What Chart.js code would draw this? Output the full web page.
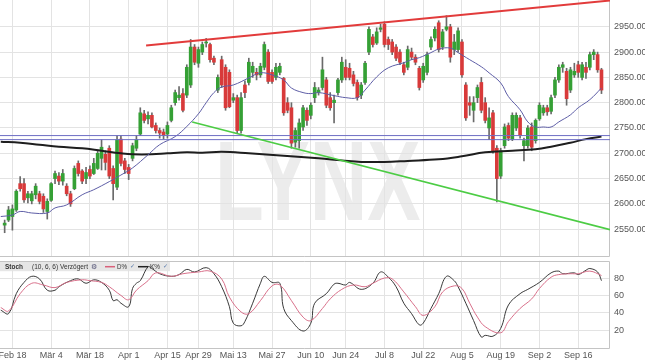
<!DOCTYPE html>
<html><head><meta charset="utf-8">
<script src="https://cdn.jsdelivr.net/npm/chart.js@4.4.1/dist/chart.umd.min.js"></script>
<style>
html,body{margin:0;padding:0;background:#fff;}
#wrap{position:relative;width:645px;height:363px;overflow:hidden;background:#fff;}
.box{position:absolute;left:0;width:645px;}
</style></head><body>
<div id="wrap">
<div class="box" style="top:0;height:258px"><canvas id="c1" width="645" height="258"></canvas></div>
<div class="box" style="top:258px;height:105px"><canvas id="c2" width="645" height="105"></canvas></div>
</div>
<script>
// ---------- data (trading-day index 0 = Feb 18) ----------
const firstDay = -2;
const opens = [2558,2568,2575,2588,2640,2640,2612,2606,2618,2620,
2615,2585,2607,2650,2655,2645,2635,2620,2630,2680,
2665,2650,2668,2660,2670,2690,2698,2710,2670,2633,
2728,2685,2672,2690,2710,2738,2778,2768,2775,2755,
2745,2742,2738,2765,2800,2810,2818,2815,2835,2910,
2878,2900,2918,2915,2888,2825,2885,2870,2860,2805,
2810,2745,2835,2840,2860,2860,2855,2870,2900,2860,
2850,2860,2848,2800,2790,2722,2725,2752,2785,2775,
2810,2820,2830,2845,2810,2800,2820,2845,2870,2868,
2855,2840,2815,2840,2900,2930,2918,2945,2955,2925,
2920,2910,2900,2875,2870,2900,2890,2868,2845,2860,
2910,2928,2958,2910,2945,2950,2905,2905,2920,2835,
2800,2785,2810,2840,2800,2750,2780,2710,2655,2715,
2755,2728,2750,2770,2715,2715,2752,2725,2768,2780,
2790,2783,2815,2845,2870,2862,2825,2855,2875,2850,
2870,2870,2895,2895,2865];
const highs = [2568,2595,2598,2628,2654,2650,2625,2625,2640,2625,
2620,2610,2642,2665,2662,2668,2640,2625,2675,2685,
2668,2672,2675,2690,2705,2727,2705,2715,2675,2735,
2735,2690,2678,2720,2735,2790,2785,2782,2780,2760,
2750,2748,2762,2795,2825,2832,2828,2875,2925,2915,
2910,2920,2927,2918,2892,2855,2892,2875,2865,2818,
2815,2820,2843,2888,2880,2868,2878,2920,2905,2865,
2878,2878,2850,2810,2800,2750,2768,2795,2790,2800,
2840,2830,2890,2850,2820,2815,2848,2890,2885,2878,
2862,2845,2840,2882,2950,2935,2948,2955,2960,2930,
2925,2915,2905,2880,2912,2908,2895,2872,2878,2900,
2930,2950,2962,2945,2972,2955,2935,2948,2925,2840,
2812,2812,2835,2850,2810,2790,2785,2715,2710,2758,
2760,2780,2780,2775,2730,2755,2760,2768,2800,2795,
2795,2815,2850,2875,2880,2868,2870,2878,2882,2880,
2880,2900,2905,2900,2868];
const lows = [2543,2565,2548,2585,2625,2603,2602,2600,2610,2600,
2583,2570,2605,2640,2638,2637,2616,2595,2628,2655,
2640,2640,2650,2658,2668,2667,2667,2650,2608,2628,
2675,2660,2648,2685,2705,2735,2760,2758,2750,2740,
2730,2728,2730,2762,2795,2805,2782,2810,2830,2875,
2870,2895,2910,2880,2875,2820,2830,2785,2790,2800,
2740,2740,2810,2835,2850,2845,2850,2865,2838,2838,
2845,2855,2775,2780,2710,2712,2710,2745,2755,2768,
2800,2815,2825,2790,2785,2760,2815,2840,2845,2845,
2833,2805,2808,2836,2895,2910,2915,2940,2910,2905,
2895,2883,2875,2855,2865,2885,2875,2825,2840,2855,
2905,2922,2900,2905,2942,2880,2895,2900,2850,2765,
2775,2762,2800,2780,2760,2727,2700,2604,2650,2710,
2725,2725,2745,2730,2685,2710,2705,2720,2765,2775,
2775,2778,2810,2840,2860,2795,2820,2850,2850,2845,
2848,2865,2885,2860,2818];
const closes = [2562,2588,2590,2625,2630,2608,2620,2620,2635,2605,
2590,2605,2640,2660,2645,2660,2620,2600,2670,2660,
2645,2662,2655,2680,2700,2712,2682,2655,2640,2727,
2680,2668,2660,2715,2727,2780,2765,2775,2752,2745,
2740,2735,2755,2790,2820,2815,2785,2870,2910,2880,
2905,2915,2920,2885,2880,2850,2835,2790,2792,2810,
2745,2810,2820,2880,2872,2855,2872,2915,2842,2842,
2870,2872,2780,2785,2720,2745,2760,2790,2765,2795,
2830,2825,2865,2795,2790,2805,2845,2880,2850,2850,
2838,2810,2835,2878,2945,2915,2940,2948,2915,2915,
2900,2888,2880,2860,2905,2890,2880,2830,2872,2895,
2925,2945,2905,2940,2950,2890,2920,2942,2855,2770,
2795,2800,2830,2785,2765,2770,2705,2650,2705,2752,
2730,2775,2775,2735,2725,2750,2712,2765,2795,2790,
2782,2810,2845,2870,2875,2808,2865,2862,2860,2875,
2860,2895,2900,2865,2825];

// moving averages: [day, value]
const ma20 = [[-3,2575],[0,2578],[2,2585],[5,2582],[9,2582],[11,2592],[14,2598],[18,2618],[21,2628],[25,2644],[28,2657],[31,2671],[35,2697],[38,2717],[42,2733],[45,2753],[48,2778],[50,2800],[52,2820],[54,2831],[57,2835],[61,2849],[64,2859],[67,2855],[70,2845],[72,2829],[75,2820],[77,2818],[79,2820],[83,2814],[86,2810],[89,2810],[91,2825],[94,2851],[97,2869],[101,2879],[103,2885],[105,2889],[108,2899],[110,2906],[113,2908],[115,2899],[118,2885],[121,2871],[123,2859],[126,2839],[128,2812],[131,2786],[133,2762],[135,2752],[137,2752],[139,2752],[141,2762],[144,2776],[146,2790],[149,2806],[152,2829]];
const ma200 = [[-3,2723],[2,2721],[7,2717],[12,2713],[18,2710],[23,2705],[28,2700],[31,2698],[36,2698],[40,2700],[45,2702],[49,2701],[54,2703],[61,2700],[70,2695],[79,2690],[85,2686],[90,2683],[96,2683],[102,2685],[110,2688],[116,2694],[122,2702],[129,2705],[135,2708],[139,2713],[144,2721],[148,2728],[152,2733]];
const resistanceLine = [[34.5,2913],[154.2,3002]];
const supportLine = [[46.4,2762],[154.2,2549]];
const levelLines = [2735,2727];

const stochK = [[-3,43],[-1,39],[1,62],[3,75],[5,82],[7,79],[9,66],[11,66],[12,70],[15,77],[17,79],[19,74],[21,78],[23,75],[25,66],[26,54],[27,55],[28,51],[30,47],[31,68],[32,74],[33,77],[35,93],[36,91],[38,85],[41,82],[43,84],[45,90],[47,87],[50,92],[52,85],[54,70],[56,47],[57,28],[59,25],[60,30],[62,51],[64,74],[65,82],[67,75],[69,74],[70,45],[72,31],[75,19],[77,28],[78,51],[81,62],[83,73],[84,74],[86,72],[87,75],[90,67],[93,74],[95,87],[97,81],[99,70],[101,51],[103,39],[105,26],[106,28],[108,45],[110,62],[112,82],[114,77],[115,70],[117,51],[119,31],[121,12],[122,14],[124,13],[126,22],[128,49],[131,62],[133,67],[136,75],[139,86],[141,88],[142,85],[145,86],[146,84],[148,89],[149,91],[151,87],[152,77]];
const stochD = [[-3,46],[-1,42],[2,62],[5,74],[8,72],[11,69],[14,75],[18,78],[20,77],[23,75],[25,70],[28,60],[30,55],[32,66],[35,77],[37,86],[41,82],[44,85],[48,87],[51,88],[54,79],[56,58],[59,41],[61,39],[64,54],[67,71],[69,72],[72,54],[75,35],[77,31],[80,45],[82,56],[85,67],[88,72],[91,70],[93,74],[96,80],[98,79],[101,64],[104,47],[106,37],[109,47],[111,64],[114,71],[116,68],[118,51],[120,35],[122,24],[126,17],[128,30],[131,45],[134,56],[136,68],[139,81],[141,84],[144,85],[146,85],[149,88],[152,83]];

const tickDays = [0,10,20,30,40,48,57,67,77,86,96,106,116,126,136,146];
const tickLabels = ['Feb 18','Mär 4','Mär 18','Apr 1','Apr 15','Apr 29','Mai 13','Mai 27','Jun 10','Jun 24','Jul 8','Jul 22','Aug 5','Aug 19','Sep 2','Sep 16'];
const priceTicks = [2550,2600,2650,2700,2750,2800,2850,2900,2950];
const stochTicks = [20,40,60,80];

// ---------- setup ----------
const X_MIN = -3.2, X_MAX = 154.2;
const FONT = 'Arial, "Liberation Sans", sans-serif';
const GRID = '#e3e3e3';
const UP = '#35a035', DOWN = '#d83a3a';

const wickData = [], bodyData = [], bodyColors = [];
for (let k = 0; k < opens.length; k++) {
  const d = firstDay + k;
  wickData.push({x: d, y: [lows[k], highs[k]]});
  bodyData.push({x: d, y: [opens[k], closes[k]]});
  bodyColors.push(closes[k] >= opens[k] ? UP : DOWN);
}
const pts = arr => arr.map(([x, y]) => ({x, y}));
const noPadX = s => { s.paddingLeft = 0; s.paddingRight = 0; };
const noPadY = s => { s.paddingTop = 0; s.paddingBottom = 0; };

const watermark = {
  id: 'wm',
  beforeDraw(chart) {
    const c = chart.ctx;
    c.save();
    c.fillStyle = '#ececec';
    c.font = 'bold 114px ' + FONT;
    c.textBaseline = 'alphabetic';
    c.translate(215, 220);
    c.scale(0.7, 1);
    c.fillText('LYNX', 0, 0);
    c.restore();
  }
};
const frame = {
  id: 'frame',
  beforeDatasetsDraw(chart) {
    const {ctx, chartArea: a} = chart;
    ctx.save();
    ctx.strokeStyle = '#c4c4c4';
    ctx.lineWidth = 1;
    ctx.beginPath();
    ctx.moveTo(Math.round(a.right) - 0.5, Math.round(a.top));
    ctx.lineTo(Math.round(a.right) - 0.5, Math.round(a.bottom) - 0.5);
    ctx.lineTo(0, Math.round(a.bottom) - 0.5);
    ctx.stroke();
    ctx.restore();
  }
};

const xCommon = {
  type: 'linear', min: X_MIN, max: X_MAX, offset: false,
  afterBuildTicks: s => { s.ticks = tickDays.map(v => ({value: v})); },
  grid: {color: GRID, drawTicks: false, offset: false},
  border: {display: false}
};

new Chart(document.getElementById('c1'), {
  type: 'bar',
  data: {
    datasets: [
      {type: 'bar', data: wickData, backgroundColor: '#6a6a6a', barThickness: 1, grouped: false, order: 20},
      {type: 'bar', data: bodyData, backgroundColor: bodyColors, barThickness: 3, grouped: false, minBarLength: 1, order: 19},
      {type: 'line', data: pts(ma200), borderColor: '#1e1e1e', borderWidth: 2, pointRadius: 0, tension: 0.4, order: 5},
      {type: 'line', data: pts(ma20), borderColor: '#5d5da6', borderWidth: 1, pointRadius: 0, tension: 0.4, order: 4},
      {type: 'line', data: [{x: X_MIN, y: levelLines[0]}, {x: X_MAX, y: levelLines[0]}], borderColor: '#6e6ec4', borderWidth: 1, pointRadius: 0, order: 3},
      {type: 'line', data: [{x: X_MIN, y: levelLines[1]}, {x: X_MAX, y: levelLines[1]}], borderColor: '#6e6ec4', borderWidth: 1, pointRadius: 0, order: 3},
      {type: 'line', data: pts(resistanceLine), borderColor: '#e23b3b', borderWidth: 2, pointRadius: 0, order: 1},
      {type: 'line', data: pts(supportLine), borderColor: '#4ccc44', borderWidth: 1.6, pointRadius: 0, order: 1}
    ]
  },
  options: {
    responsive: false, animation: false, events: [],
    layout: {padding: {left: 0, right: 0, top: 0, bottom: 1}},
    plugins: {legend: {display: false}, tooltip: {enabled: false}},
    scales: {
      x: Object.assign({}, xCommon, {display: true, ticks: {display: false}, afterFit: s => { s.height = 0; noPadX(s); }}),
      y: {
        position: 'right', min: 2495, max: 3003,
        afterBuildTicks: s => { s.ticks = priceTicks.map(v => ({value: v})); },
        afterFit: s => { s.width = 35; noPadY(s); },
        ticks: {color: '#555', font: {size: 9, family: FONT}, padding: 4, callback: v => Number(v).toFixed(2)},
        grid: {color: GRID, drawTicks: false},
        border: {display: false}
      }
    }
  },
  plugins: [watermark, frame]
});

const header = {
  id: 'hdr',
  beforeDatasetsDraw(chart) {
    const c = chart.ctx;
    const top = chart.chartArea.top;
    c.save();
    c.fillStyle = 'rgba(226,226,226,0.85)';
    c.fillRect(0, top + 1, 170, 9.5);
    c.textBaseline = 'middle';
    const y = top + 6;
    c.fillStyle = '#333';
    c.font = 'bold 7.5px ' + FONT;
    c.fillText('Stoch', 5, y, 18);
    c.font = '7.5px ' + FONT;
    c.fillText('(10, 6, 6) Verzögert', 32, y, 56);
    c.fillStyle = '#557';
    c.font = '7px "DejaVu Sans", sans-serif';
    c.fillText('\u2699', 91, y);
    c.strokeStyle = '#d9607a'; c.lineWidth = 1.5;
    c.beginPath(); c.moveTo(105, y); c.lineTo(115, y); c.stroke();
    c.fillStyle = '#333'; c.font = '7.5px ' + FONT;
    c.fillText('D%', 117, y, 10);
    c.fillStyle = '#5577aa'; c.font = '6px "DejaVu Sans", sans-serif';
    c.fillText('\u2713', 130, y);
    c.strokeStyle = '#222'; c.lineWidth = 1.5;
    c.beginPath(); c.moveTo(138, y); c.lineTo(148, y); c.stroke();
    c.fillStyle = '#333'; c.font = '7.5px ' + FONT;
    c.fillText('K%', 150, y, 10);
    c.fillStyle = '#5577aa'; c.font = '6px "DejaVu Sans", sans-serif';
    c.fillText('\u2713', 163, y);
    c.restore();
  }
};
const frame2 = {
  id: 'frame2',
  beforeDatasetsDraw(chart) {
    const {ctx, chartArea: a} = chart;
    ctx.save();
    ctx.strokeStyle = '#c4c4c4';
    ctx.lineWidth = 1;
    ctx.beginPath();
    ctx.moveTo(0, Math.round(a.top) + 0.5);
    ctx.lineTo(Math.round(a.right) - 0.5, Math.round(a.top) + 0.5);
    ctx.lineTo(Math.round(a.right) - 0.5, Math.round(a.bottom) + 0.5);
    ctx.lineTo(0, Math.round(a.bottom) + 0.5);
    ctx.stroke();
    ctx.restore();
  }
};

new Chart(document.getElementById('c2'), {
  type: 'line',
  data: {
    datasets: [
      {data: pts(stochK), borderColor: '#3a3a3a', borderWidth: 1, pointRadius: 0, tension: 0.4, order: 2},
      {data: pts(stochD), borderColor: '#d8708a', borderWidth: 1, pointRadius: 0, tension: 0.4, order: 1}
    ]
  },
  options: {
    responsive: false, animation: false, events: [],
    layout: {padding: {left: 0, right: 0, top: 2.7, bottom: 0}},
    plugins: {legend: {display: false}, tooltip: {enabled: false}},
    scales: {
      x: Object.assign({}, xCommon, {
        afterFit: s => { s.height = 15.5; noPadX(s); },
        ticks: {color: '#555', font: {size: 9, family: FONT}, padding: 3, autoSkip: false, maxRotation: 0,
          callback: v => tickLabels[tickDays.indexOf(v)]}
      }),
      y: {
        position: 'right', min: 0, max: 100,
        afterBuildTicks: s => { s.ticks = stochTicks.map(v => ({value: v})); },
        afterFit: s => { s.width = 35; noPadY(s); },
        ticks: {color: '#555', font: {size: 9, family: FONT}, padding: 4},
        grid: {color: GRID, drawTicks: false},
        border: {display: false}
      }
    }
  },
  plugins: [header, frame2]
});
</script>
</body></html>
